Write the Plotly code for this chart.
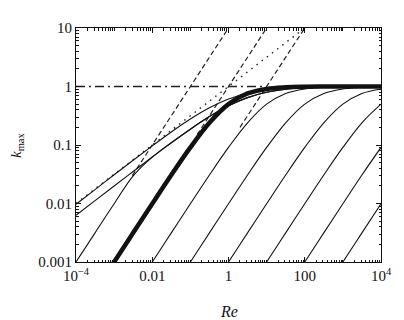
import plotly.graph_objects as go

# Re grid, half decades from 1e-4 to 1e4
re_vals = [1e-4, 3.16e-4, 1e-3, 3.16e-3, 1e-2, 3.16e-2, 0.1, 0.316, 1,
           3.16, 10, 31.6, 100, 316, 1000, 3160, 1e4]

# upper envelope curve and the one just below it
k_top = [0.0097, 0.0173, 0.0310, 0.0550, 0.0965, 0.167, 0.278, 0.432, 0.610,
         0.768, 0.878, 0.940, 0.975, 0.988, 0.996, 0.998, 0.999]
k_second = [0.0063, 0.0112, 0.0199, 0.0353, 0.0623, 0.109, 0.186, 0.306, 0.468,
            0.645, 0.795, 0.896, 0.950, 0.978, 0.991, 0.997, 0.999]

# family of thin curves (one per decade) + the thick one
k_m4 = [0.001, 0.00315, 0.0099, 0.0296, 0.0619, 0.109, 0.186, 0.306, 0.468,
        0.645, 0.795, 0.896, 0.950, 0.978, 0.991, 0.997, 0.999]
k_thick = [None, 0.000316, 0.001, 0.00315, 0.0099, 0.0307, 0.0909, 0.240, 0.5,
           0.760, 0.909, 0.969, 0.990, 0.997, 0.999, 1.0, 1.0]
k_m2 = [None, None, None, 0.000316, 0.001, 0.00315, 0.0099, 0.0307, 0.0909,
        0.240, 0.5, 0.760, 0.909, 0.969, 0.990, 0.997, 0.999]
k_m1 = [None, None, None, None, None, 0.000316, 0.001, 0.00315, 0.0099,
        0.0307, 0.0909, 0.240, 0.5, 0.760, 0.909, 0.969, 0.990]
k_0 = [None, None, None, None, None, None, None, 0.000316, 0.001,
       0.00315, 0.0099, 0.0307, 0.0909, 0.240, 0.5, 0.760, 0.909]
k_1 = [None, None, None, None, None, None, None, None, None,
       0.000316, 0.001, 0.00315, 0.0099, 0.0307, 0.0909, 0.240, 0.5]
k_2 = [None, None, None, None, None, None, None, None, None,
       None, None, 0.000316, 0.001, 0.00315, 0.0099, 0.0307, 0.0909]
k_3 = [None, None, None, None, None, None, None, None, None,
       None, None, None, None, 0.000316, 0.001, 0.00315, 0.0099]

# asymptotes
dash_re = [[0.003, 1], [0.15, 10], [2, 100]]
dash_k = [[0.03, 10], [0.15, 10], [0.2, 10]]
dot_re = [1e-4, 100]
dot_k = [0.01, 10]
dashdot_re = [1e-4, 10]
dashdot_k = [1, 1]

xtick_vals = [1e-4, 1e-2, 1, 100, 1e4]
xtick_text = ["10<sup>\u22124</sup>", "0.01", "1", "100", "10<sup>4</sup>"]
ytick_vals = [0.001, 0.01, 0.1, 1, 10]
ytick_text = ["0.001", "0.01", "0.1", "1", "10"]

fnt = "Liberation Serif, Times New Roman, serif"
black = "#111"

fig = go.Figure()

for xs, ys in zip(dash_re, dash_k):
    fig.add_trace(go.Scatter(x=xs, y=ys, mode="lines",
                             line=dict(color="#222", width=1.2, dash="5px,3px")))
fig.add_trace(go.Scatter(x=dot_re, y=dot_k, mode="lines",
                         line=dict(color="#222", width=1.4, dash="1.5px,5px")))
fig.add_trace(go.Scatter(x=dashdot_re, y=dashdot_k, mode="lines",
                         line=dict(color="#222", width=1.5, dash="9px,4px,2px,4px")))

for ys in [k_top, k_second, k_m4, k_m2, k_m1, k_0, k_1, k_2, k_3]:
    fig.add_trace(go.Scatter(x=re_vals, y=ys, mode="lines",
                             line=dict(color=black, width=1.1, shape="spline")))
fig.add_trace(go.Scatter(x=re_vals, y=k_thick, mode="lines",
                         line=dict(color=black, width=4.5, shape="spline")))

axis_common = dict(
    showgrid=False, zeroline=False, showline=True, linecolor=black, linewidth=1,
    mirror="allticks", ticks="inside", ticklen=5, tickcolor=black,
    tickfont=dict(family=fnt, size=15, color=black),
    minor=dict(ticks="inside", ticklen=2.5, tickcolor=black, dtick="D1"),
)

fig.update_xaxes(type="log", range=[-4, 4], tickmode="array",
                 tickvals=xtick_vals, ticktext=xtick_text, **axis_common)
fig.update_yaxes(type="log", range=[-3, 1], tickmode="array",
                 tickvals=ytick_vals, ticktext=ytick_text, **axis_common)

fig.add_annotation(text="<i>Re</i>", xref="paper", yref="paper", x=0.5, y=0,
                   yanchor="middle", yshift=-49, showarrow=False,
                   font=dict(family=fnt, size=16, color=black))
fig.add_annotation(text="<i>k</i><sub>max</sub>", xref="paper", yref="paper",
                   x=0, y=0.5, xanchor="center", xshift=-59, textangle=-90,
                   showarrow=False, font=dict(family=fnt, size=15, color=black))

# page body adds 8px on each side, so the figure is trimmed to fit the window
fig.update_layout(width=396, height=312, showlegend=False,
                  margin=dict(l=68, r=13, t=19, b=58),
                  paper_bgcolor="white", plot_bgcolor="white")

fig.write_html("out.html")
